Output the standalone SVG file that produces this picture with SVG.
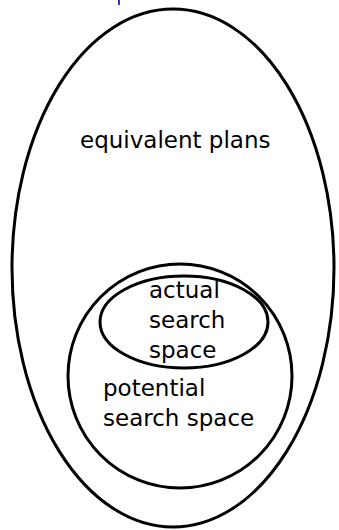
<svg xmlns="http://www.w3.org/2000/svg" width="339" height="530" viewBox="0 0 339 530">
<style>
.e{fill:none;stroke:#000;stroke-width:3}
.t{font-family:"DejaVu Sans",sans-serif;font-size:23px;fill:#000}
</style>
<rect width="339" height="530" fill="#fff"/>
<line x1="119" y1="0" x2="119" y2="5" stroke="#3535c8" stroke-width="2"/>
<g id="equivalent-plans">
<ellipse class="e" cx="173" cy="268" rx="161" ry="259"/>
<text class="t" x="80" y="148">equivalent plans</text>
</g>
<g id="potential-search-space">
<ellipse class="e" cx="180" cy="376" rx="112" ry="112"/>
<text class="t" x="103" y="396">potential</text>
<text class="t" x="103" y="426">search space</text>
</g>
<g id="actual-search-space">
<ellipse class="e" cx="184" cy="322" rx="84" ry="46"/>
<text class="t" x="149" y="298">actual</text>
<text class="t" x="149" y="328">search</text>
<text class="t" x="149" y="358">space</text>
</g>
<g id="connectors"/>
</svg>
